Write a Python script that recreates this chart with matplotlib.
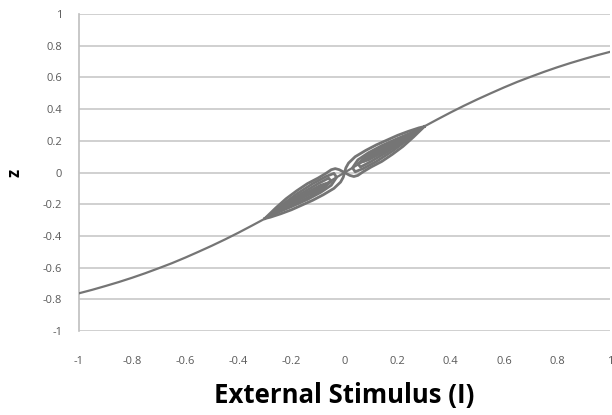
import numpy as np
import matplotlib
matplotlib.use("Agg")
import matplotlib.pyplot as plt

# main branch
stim = [-1.0, -0.95, -0.9, -0.85, -0.8, -0.75, -0.7, -0.65, -0.6, -0.55, -0.5, -0.45,
        -0.4, -0.35, -0.3, -0.25, -0.2, -0.15, -0.1, -0.05, 0.0,
        0.05, 0.1, 0.15, 0.2, 0.25, 0.3, 0.35, 0.4, 0.45, 0.5, 0.55,
        0.6, 0.65, 0.7, 0.75, 0.8, 0.85, 0.9, 0.95, 1.0]
z_main = [-0.762, -0.740, -0.716, -0.691, -0.664, -0.635, -0.604, -0.572, -0.537, -0.500, -0.462, -0.422,
          -0.380, -0.336, -0.291, -0.245, -0.197, -0.149, -0.100, -0.050, 0.0,
          0.050, 0.100, 0.149, 0.197, 0.245, 0.291, 0.336, 0.380, 0.422, 0.462, 0.500,
          0.537, 0.572, 0.604, 0.635, 0.664, 0.691, 0.716, 0.740, 0.762]

# hysteresis loops near the origin, left lobe (outer -> inner)
left_a_x = [-0.30, -0.26, -0.22, -0.18, -0.14, -0.10, -0.07, -0.05, -0.035, -0.02, 0.0,
            -0.005, -0.015, -0.04, -0.08, -0.12, -0.16, -0.20, -0.24, -0.28, -0.30]
left_a_z = [-0.29, -0.225, -0.165, -0.115, -0.07, -0.035, -0.005, 0.018, 0.025, 0.018, 0.0,
            -0.03, -0.06, -0.10, -0.14, -0.175, -0.205, -0.235, -0.26, -0.282, -0.29]
left_b_x = [-0.29, -0.24, -0.18, -0.12, -0.07, -0.04, -0.03, -0.05, -0.09, -0.14, -0.20, -0.25, -0.29]
left_b_z = [-0.28, -0.21, -0.135, -0.07, -0.025, -0.005, -0.03, -0.08, -0.125, -0.17, -0.215, -0.25, -0.28]
left_c_x = [-0.28, -0.22, -0.16, -0.10, -0.06, -0.05, -0.08, -0.13, -0.19, -0.24, -0.28]
left_c_z = [-0.27, -0.195, -0.13, -0.07, -0.035, -0.055, -0.10, -0.15, -0.20, -0.24, -0.27]
left_d_x = [-0.27, -0.20, -0.14, -0.09, -0.07, -0.10, -0.16, -0.22, -0.27]
left_d_z = [-0.26, -0.185, -0.125, -0.08, -0.07, -0.11, -0.16, -0.21, -0.26]

# right lobe
right_a_x = [0.30, 0.26, 0.22, 0.18, 0.14, 0.10, 0.07, 0.05, 0.035, 0.02, 0.0,
             0.005, 0.015, 0.04, 0.08, 0.12, 0.16, 0.20, 0.24, 0.28, 0.30]
right_a_z = [0.29, 0.225, 0.165, 0.115, 0.07, 0.035, 0.005, -0.018, -0.025, -0.018, 0.0,
             0.03, 0.06, 0.10, 0.14, 0.175, 0.205, 0.235, 0.26, 0.282, 0.29]
right_b_x = [0.29, 0.24, 0.18, 0.12, 0.07, 0.04, 0.03, 0.05, 0.09, 0.14, 0.20, 0.25, 0.29]
right_b_z = [0.28, 0.21, 0.135, 0.07, 0.025, 0.005, 0.03, 0.08, 0.125, 0.17, 0.215, 0.25, 0.28]
right_c_x = [0.28, 0.22, 0.16, 0.10, 0.06, 0.05, 0.08, 0.13, 0.19, 0.24, 0.28]
right_c_z = [0.27, 0.195, 0.13, 0.07, 0.035, 0.055, 0.10, 0.15, 0.20, 0.24, 0.27]
right_d_x = [0.27, 0.20, 0.14, 0.09, 0.07, 0.10, 0.16, 0.22, 0.27]
right_d_z = [0.26, 0.185, 0.125, 0.08, 0.07, 0.11, 0.16, 0.21, 0.26]

ticks = [-1, -0.8, -0.6, -0.4, -0.2, 0, 0.2, 0.4, 0.6, 0.8, 1]
tick_labels = ["-1", "-0.8", "-0.6", "-0.4", "-0.2", "0", "0.2", "0.4", "0.6", "0.8", "1"]

fig = plt.figure(figsize=(6.12, 4.15), dpi=100)
ax = fig.add_axes([0.129, 0.2024, 0.868, 0.7636])

line_col = "#757575"
ax.plot(stim, z_main, color=line_col, lw=1.6, zorder=3, solid_joinstyle="round")
loops = [(left_a_x, left_a_z), (left_b_x, left_b_z), (left_c_x, left_c_z), (left_d_x, left_d_z),
         (right_a_x, right_a_z), (right_b_x, right_b_z), (right_c_x, right_c_z), (right_d_x, right_d_z)]
for xs, zs in loops:
    ax.plot(xs, zs, color=line_col, lw=2.0, zorder=3, solid_joinstyle="round")

ax.set_xlim(-1, 1)
ax.set_ylim(-1, 1)
ax.set_xticks(ticks)
ax.set_xticklabels(tick_labels)
ax.set_yticks(ticks)
ax.set_yticklabels(tick_labels)
ax.tick_params(length=0, labelsize=8, labelcolor="#595959")
ax.tick_params(axis="x", pad=18)
ax.tick_params(axis="y", pad=12)
for lbl in ax.get_xticklabels() + ax.get_yticklabels():
    lbl.set_family("Open Sans")

ax.grid(axis="y", color="#c8c8c8", lw=1.2)
ax.set_axisbelow(True)
for s in ["top", "right", "bottom"]:
    ax.spines[s].set_visible(False)
ax.spines["left"].set_color("#bfbfbf")
ax.spines["left"].set_linewidth(1.2)

ax.set_xlabel("External Stimulus (I)", fontsize=18.5, fontweight="bold", family="Open Sans")
ax.xaxis.set_label_coords(0.5, -0.16)
ax.set_ylabel("z", fontsize=12, fontweight="bold", family="Open Sans", labelpad=14)

fig.savefig("out.png", dpi=100)
